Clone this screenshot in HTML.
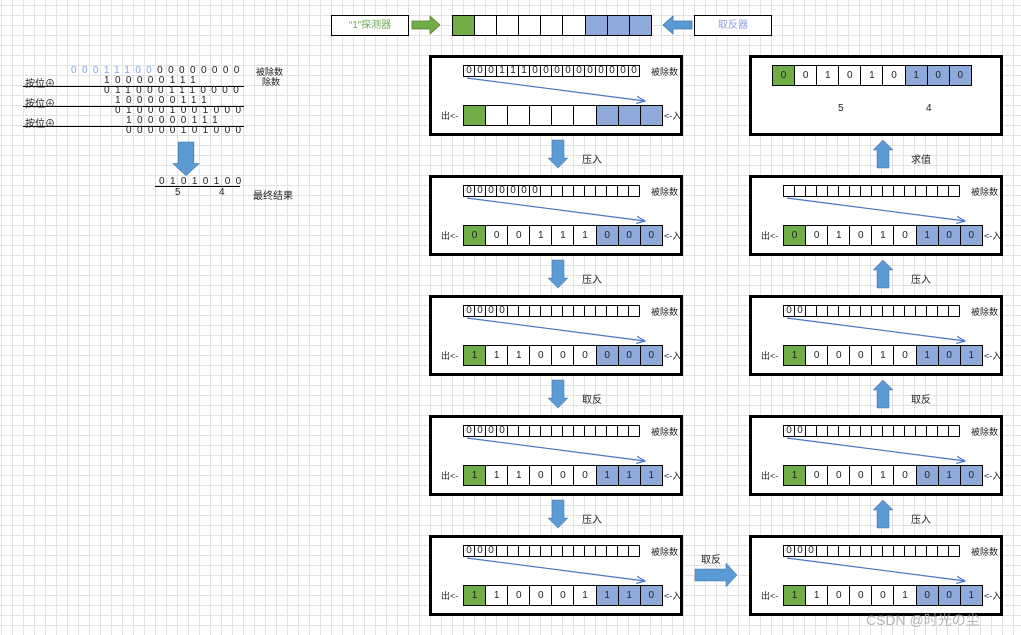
<!DOCTYPE html>
<html><head><meta charset="utf-8"><style>
*{margin:0;padding:0;box-sizing:border-box}
body{width:1021px;height:635px;position:relative;overflow:hidden;background-color:#fff;
background-image:linear-gradient(to right,#e2e2e2 1px,transparent 1px),linear-gradient(to bottom,#e2e2e2 1px,transparent 1px);
background-size:11px 10px;background-position:1px 5px;
font-family:"Liberation Sans","Noto Sans CJK SC",sans-serif;font-size:10px;color:#222;white-space:nowrap}
.a{position:absolute;white-space:nowrap}
.box{position:absolute;width:254px;height:81px;border:3px solid #000;background:#fff}
.t{position:absolute;left:31px;top:7px;display:flex;border-left:1px solid #000}
.t span{width:11px;height:12px;border:1px solid #000;border-left:none;font-size:10px;line-height:10px;text-align:center}
.b{position:absolute;left:31px;top:47px;display:flex;border-left:1px solid #000}
.b span{width:22.1px;height:21px;border:1px solid #000;border-left:none;line-height:19px;text-align:center;font-size:10px;background:#fff}
.b span:nth-child(1){background:#70ad47}
.b span:nth-child(7),.b span:nth-child(8),.b span:nth-child(9){background:#8eaadb}
.lb{position:absolute;left:219px;top:7px;font-size:9px;white-space:nowrap}
.o{position:absolute;left:9px;top:51px;font-size:9px;white-space:nowrap}
.i{position:absolute;left:232px;top:51px;font-size:9px;white-space:nowrap}
.n{letter-spacing:5.39px}
</style></head><body>

<!-- header -->
<div class="a" style="left:331px;top:15px;width:78px;height:21px;border:1px solid #000;background:#fff;color:#6aa84f;text-align:center;line-height:19px">“1”探测器</div>
<div class="a" style="left:694px;top:15px;width:78px;height:21px;border:1px solid #000;background:#fff;color:#8e9fe0;text-align:center;line-height:19px">取反器</div>
<div class="b" style="left:452px;top:15px"><span></span><span></span><span></span><span></span><span></span><span></span><span></span><span></span><span></span></div>

<!-- left calc -->
<div class="a" style="left:0;top:0;width:300px;height:200px;font-size:10px">
<div class="a" style="left:23px;top:86px;width:221px;border-top:1px solid #000"></div>
<div class="a" style="left:23px;top:106px;width:221px;border-top:1px solid #000"></div>
<div class="a" style="left:23px;top:126px;width:221px;border-top:1px solid #000"></div>
<div class="a" style="left:155px;top:186px;width:85px;border-top:1px solid #000"></div>
<div class="a" style="left:25px;top:75px">按位⊕</div>
<div class="a" style="left:25px;top:95px">按位⊕</div>
<div class="a" style="left:25px;top:115px">按位⊕</div>
<div class="a" style="left:256px;top:65px;font-size:9px">被除数</div>
<div class="a" style="left:262px;top:75px;font-size:9px">除数</div>
<div class="a" style="left:175px;top:187px">5</div>
<div class="a" style="left:219px;top:187px">4</div>
<div class="a" style="left:253px;top:187px">最终结果</div>
<div class="a n" style="left:71px;top:65px"><span style="color:#7fa4e0">00011100</span>00000000</div>
<div class="a n" style="left:104px;top:75px">100000111</div>
<div class="a n" style="left:104px;top:85px">0110001110000</div>
<div class="a n" style="left:115px;top:95px">100000111</div>
<div class="a n" style="left:115px;top:105px">010001001000</div>
<div class="a n" style="left:126px;top:115px">100000111</div>
<div class="a n" style="left:126px;top:125px">00000101000</div>
<div class="a n" style="left:159px;top:176px">01010100</div>
</div>

<!-- left column boxes -->
<div class="box" style="left:429px;top:55px"><div class="t"><span>0</span><span>0</span><span>0</span><span>1</span><span>1</span><span>1</span><span>0</span><span>0</span><span>0</span><span>0</span><span>0</span><span>0</span><span>0</span><span>0</span><span>0</span><span>0</span></div><div class="lb">被除数</div><div class="o">出&lt;-</div><div class="i">&lt;-入</div><div class="b"><span></span><span></span><span></span><span></span><span></span><span></span><span></span><span></span><span></span></div></div>

<div class="box" style="left:429px;top:175px"><div class="t"><span>0</span><span>0</span><span>0</span><span>0</span><span>0</span><span>0</span><span>0</span><span></span><span></span><span></span><span></span><span></span><span></span><span></span><span></span><span></span></div><div class="lb">被除数</div><div class="o">出&lt;-</div><div class="i">&lt;-入</div><div class="b"><span>0</span><span>0</span><span>0</span><span>1</span><span>1</span><span>1</span><span>0</span><span>0</span><span>0</span></div></div>

<div class="box" style="left:429px;top:295px"><div class="t"><span>0</span><span>0</span><span>0</span><span>0</span><span></span><span></span><span></span><span></span><span></span><span></span><span></span><span></span><span></span><span></span><span></span><span></span></div><div class="lb">被除数</div><div class="o">出&lt;-</div><div class="i">&lt;-入</div><div class="b"><span>1</span><span>1</span><span>1</span><span>0</span><span>0</span><span>0</span><span>0</span><span>0</span><span>0</span></div></div>

<div class="box" style="left:429px;top:415px"><div class="t"><span>0</span><span>0</span><span>0</span><span>0</span><span></span><span></span><span></span><span></span><span></span><span></span><span></span><span></span><span></span><span></span><span></span><span></span></div><div class="lb">被除数</div><div class="o">出&lt;-</div><div class="i">&lt;-入</div><div class="b"><span>1</span><span>1</span><span>1</span><span>0</span><span>0</span><span>0</span><span>1</span><span>1</span><span>1</span></div></div>

<div class="box" style="left:429px;top:535px"><div class="t"><span>0</span><span>0</span><span>0</span><span></span><span></span><span></span><span></span><span></span><span></span><span></span><span></span><span></span><span></span><span></span><span></span><span></span></div><div class="lb">被除数</div><div class="o">出&lt;-</div><div class="i">&lt;-入</div><div class="b"><span>1</span><span>1</span><span>0</span><span>0</span><span>0</span><span>1</span><span>1</span><span>1</span><span>0</span></div></div>

<!-- right column -->
<div class="box" style="left:749px;top:55px"><div class="b" style="left:20px;top:7px"><span>0</span><span>0</span><span>1</span><span>0</span><span>1</span><span>0</span><span>1</span><span>0</span><span>0</span></div><div class="a" style="left:86px;top:45px">5</div><div class="a" style="left:174px;top:45px">4</div></div>

<div class="box" style="left:749px;top:175px"><div class="t"><span></span><span></span><span></span><span></span><span></span><span></span><span></span><span></span><span></span><span></span><span></span><span></span><span></span><span></span><span></span><span></span></div><div class="lb">被除数</div><div class="o">出&lt;-</div><div class="i">&lt;-入</div><div class="b"><span>0</span><span>0</span><span>1</span><span>0</span><span>1</span><span>0</span><span>1</span><span>0</span><span>0</span></div></div>

<div class="box" style="left:749px;top:295px"><div class="t"><span>0</span><span>0</span><span></span><span></span><span></span><span></span><span></span><span></span><span></span><span></span><span></span><span></span><span></span><span></span><span></span><span></span></div><div class="lb">被除数</div><div class="o">出&lt;-</div><div class="i">&lt;-入</div><div class="b"><span>1</span><span>0</span><span>0</span><span>0</span><span>1</span><span>0</span><span>1</span><span>0</span><span>1</span></div></div>

<div class="box" style="left:749px;top:415px"><div class="t"><span>0</span><span>0</span><span></span><span></span><span></span><span></span><span></span><span></span><span></span><span></span><span></span><span></span><span></span><span></span><span></span><span></span></div><div class="lb">被除数</div><div class="o">出&lt;-</div><div class="i">&lt;-入</div><div class="b"><span>1</span><span>0</span><span>0</span><span>0</span><span>1</span><span>0</span><span>0</span><span>1</span><span>0</span></div></div>

<div class="box" style="left:749px;top:535px"><div class="t"><span>0</span><span>0</span><span>0</span><span></span><span></span><span></span><span></span><span></span><span></span><span></span><span></span><span></span><span></span><span></span><span></span><span></span></div><div class="lb">被除数</div><div class="o">出&lt;-</div><div class="i">&lt;-入</div><div class="b"><span>1</span><span>1</span><span>0</span><span>0</span><span>0</span><span>1</span><span>0</span><span>0</span><span>1</span></div></div>

<!-- labels -->
<div class="a" style="left:582px;top:151px">压入</div>
<div class="a" style="left:582px;top:271px">压入</div>
<div class="a" style="left:582px;top:391px">取反</div>
<div class="a" style="left:582px;top:511px">压入</div>
<div class="a" style="left:911px;top:151px">求值</div>
<div class="a" style="left:911px;top:271px">压入</div>
<div class="a" style="left:911px;top:391px">取反</div>
<div class="a" style="left:911px;top:511px">压入</div>
<div class="a" style="left:701px;top:551px">取反</div>
<div class="a" style="left:866px;top:610px;font-size:14px;color:rgba(160,160,160,0.8)">CSDN @时光の尘</div>

<svg class="a" style="left:0;top:0" width="1021" height="635">
<defs><marker id="m" markerWidth="8" markerHeight="8" refX="7" refY="4" orient="auto"><path d="M0,1 L7,4 L0,7" fill="none" stroke="#4472c4" stroke-width="1"/></marker>
<g id="ln"><line x1="467" y1="78" x2="645" y2="101" stroke="#4472c4" stroke-width="1.2" marker-end="url(#m)"/></g>
<g id="da"><path d="M-6,0 H6 V18 H10 L0,28 L-10,18 H-6 Z" fill="#5b9bd5" stroke="#41719c" stroke-width="0.5"/></g>
<g id="ua"><path d="M-6,28 H6 V10 H10 L0,0 L-10,10 H-6 Z" fill="#5b9bd5" stroke="#41719c" stroke-width="0.5"/></g>
</defs>
<use href="#ln"/><use href="#ln" y="120"/><use href="#ln" y="240"/><use href="#ln" y="360"/><use href="#ln" y="480"/>
<use href="#ln" x="320" y="120"/><use href="#ln" x="320" y="240"/><use href="#ln" x="320" y="360"/><use href="#ln" x="320" y="480"/>
<use href="#da" x="558" y="140"/><use href="#da" x="558" y="260"/><use href="#da" x="558" y="380"/><use href="#da" x="558" y="500"/>
<use href="#ua" x="883" y="140"/><use href="#ua" x="883" y="260"/><use href="#ua" x="883" y="380"/><use href="#ua" x="883" y="500"/>
<g transform="translate(186,142) scale(1.3,1.2)"><path d="M-6,0 H6 V18 H10 L0,28 L-10,18 H-6 Z" fill="#5b9bd5" stroke="#41719c" stroke-width="0.5"/></g>
<path d="M695,569 H726 V563 L737,575 L726,587 V581 H695 Z" fill="#5b9bd5" stroke="#41719c" stroke-width="0.5"/>
<path d="M412,21 H430 V16 L440,25 L430,34 V29 H412 Z" fill="#70ad47" stroke="#507e32" stroke-width="0.8"/>
<path d="M692,21 H673 V16 L663,25 L673,34 V29 H692 Z" fill="#5b9bd5" stroke="#41719c" stroke-width="0.8"/>
</svg>
</body></html>
